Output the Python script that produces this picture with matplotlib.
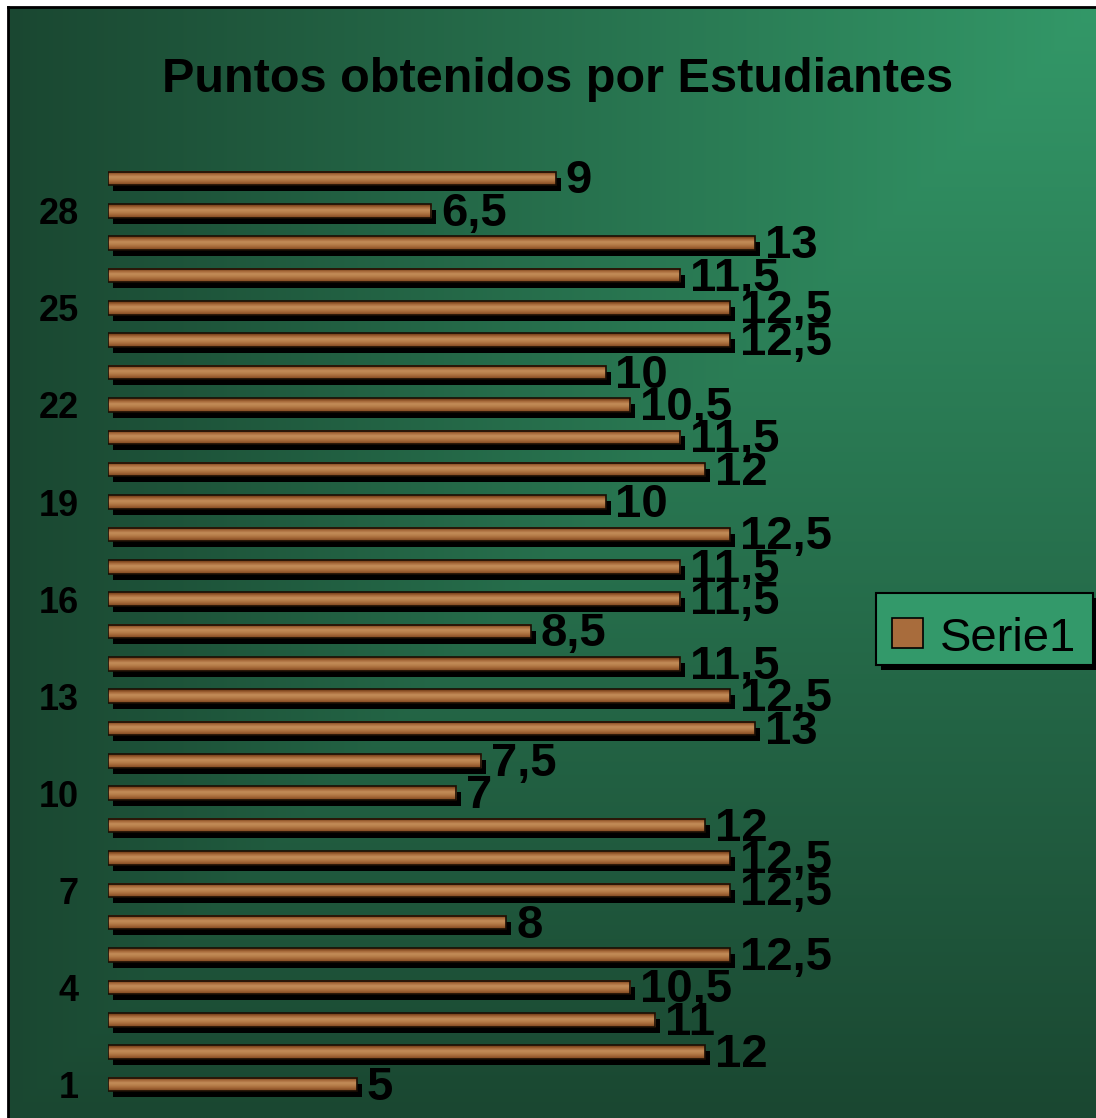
"""
    Puntos obtenidos por Estudiantes - horizontal bar chart
"""
import numpy as np
import matplotlib
matplotlib.use("Agg")
from matplotlib import pyplot as plt
from matplotlib import patheffects as pe
from matplotlib.patches import Rectangle
from matplotlib.lines import Line2D

plt.rcParams['font.family'] = ['Liberation Sans', 'DejaVu Sans']

# -- Data --
students = list(range(1, 30))
points = [5, 12, 11, 10.5, 12.5, 8, 12.5, 12.5, 12, 7,
          7.5, 13, 12.5, 11.5, 8.5, 11.5, 11.5, 12.5, 10, 12,
          11.5, 10.5, 10, 12.5, 12.5, 11.5, 13, 6.5, 9]
tick_students = [1, 4, 7, 10, 13, 16, 19, 22, 25, 28]
title = "Puntos obtenidos por Estudiantes"
series_name = "Serie1"

W, H = 1096, 1118
fig = plt.figure(figsize=(W / 100, H / 100), dpi=100)
fig.patch.set_facecolor('white')

# -- Background gradient (light in the top right corner) --
bg = fig.add_axes([8 / W, 0, 1 - 8 / W, 1 - 8 / H])
bg.set_axis_off()
yy, xx = np.mgrid[0:1:300j, 0:1:300j]
dist = np.maximum(1 - xx, yy)
dark = np.array([0x1a, 0x47, 0x31]) / 255
light = np.array([0x33, 0x98, 0x68]) / 255
bg.imshow(light + (dark - light) * dist[..., None], aspect='auto',
          extent=(0, 1, 0, 1), origin='upper', interpolation='bilinear')

# -- Black frame on the left and top --
fig.add_artist(Line2D([7.5 / W, 7.5 / W], [0, 1 - 7 / H], color='k', lw=2))
fig.add_artist(Line2D([7.5 / W, 1], [1 - 7 / H, 1 - 7 / H], color='k', lw=2))

# -- Bars axes --
x_left, px_per_unit = 108, 49.75
y_first, px_per_bar = 1084.5, 32.36
xmax = 15
y_bottom = y_first + px_per_bar / 2
y_top = y_first - 28 * px_per_bar - px_per_bar / 2
ax = fig.add_axes([x_left / W, (H - y_bottom) / H,
                   xmax * px_per_unit / W, (y_bottom - y_top) / H])
ax.patch.set_alpha(0)

shadow = [pe.SimplePatchShadow(offset=(3.6, -4.3), shadow_rgbFace='black', alpha=1.0),
          pe.Normal()]
bars = ax.barh(students, points, height=0.42, color='#a86c3c',
               linewidth=0, path_effects=shadow, zorder=2)

# wood-like vertical shading inside each bar
wood = np.array([[0x7c, 0x44, 0x1c], [0xa8, 0x6c, 0x3c], [0xc2, 0x8c, 0x58],
                 [0xb8, 0x80, 0x4c], [0xa6, 0x6a, 0x3a], [0x8a, 0x50, 0x26]]) / 255
wood = wood[:, None, :]
for bar in bars:
    x, y, w, h = bar.get_x(), bar.get_y(), bar.get_width(), bar.get_height()
    ax.imshow(wood, extent=(x, x + w, y, y + h), aspect='auto', origin='upper',
              interpolation='bilinear', clip_path=bar, zorder=3)
ax.barh(students, points, height=0.42, fill=False, edgecolor='#1a0e04',
        linewidth=1.2, zorder=4)

# -- Data labels --
for s, p in zip(students, points):
    ax.annotate(f"{p:g}".replace('.', ','), xy=(p, s), xytext=(10, -15),
                textcoords='offset pixels', ha='left', va='baseline',
                fontsize=34, fontweight='bold', color='black', zorder=5,
                annotation_clip=False)

ax.set_xlim(0, xmax)
ax.set_ylim(0.5, 29.5)
ax.set_xticks([])
ax.set_yticks(tick_students)
ax.set_yticklabels([str(t) for t in tick_students], fontsize=26, fontweight='bold')
ax.tick_params(axis='y', length=0, pad=21)
for sp in ax.spines.values():
    sp.set_visible(False)

# -- Title --
fig.text(558 / W, 1 - 92 / H, title, ha='center', va='baseline',
         fontsize=35, fontweight='bold', color='black')

# -- Legend --
leg_box = Rectangle((876 / W, (H - 665) / H), 217 / W, 72 / H,
                    transform=fig.transFigure, facecolor='#33996a',
                    edgecolor='black', linewidth=1.5,
                    path_effects=[pe.SimplePatchShadow(offset=(3.6, -3.6),
                                                       shadow_rgbFace='black', alpha=1.0),
                                  pe.Normal()])
fig.add_artist(leg_box)
fig.add_artist(Rectangle((892 / W, (H - 648) / H), 31 / W, 30 / H,
                         transform=fig.transFigure, facecolor='#a86c3c',
                         edgecolor='black', linewidth=1.2))
fig.text(940 / W, 1 - 651 / H, series_name, ha='left', va='baseline',
         fontsize=34, color='black')

fig.savefig("out.png", dpi=100)
